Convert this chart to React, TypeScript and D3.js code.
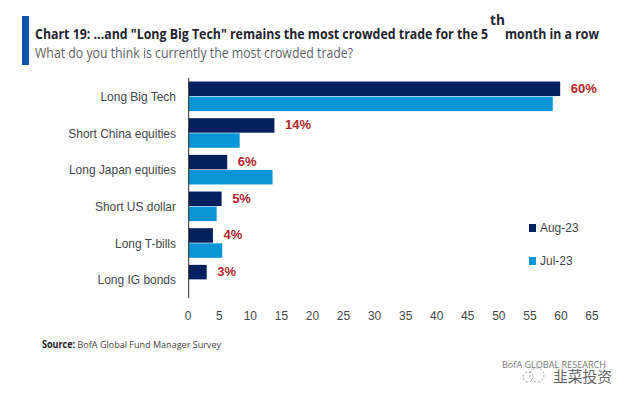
import React from "react";
import * as d3 from "d3";

const categories = ["Long Big Tech", "Short China equities", "Long Japan equities", "Short US dollar", "Long T-bills", "Long IG bonds"];
const aug23 = [59.8, 13.8, 6.2, 5.3, 3.9, 2.9];
const jul23: (number | null)[] = [58.6, 8.2, 13.5, 4.5, 5.4, null];
const labels = ["60%", "14%", "6%", "5%", "4%", "3%"];
const xTicks = d3.range(0, 70, 5);
const legendNames = ["Aug-23", "Jul-23"];

const NAVY = "#04205f";
const BLUE = "#0a95d6";
const RED = "#b3262c";
const GREY = "#45484d";
const LIB = "'Liberation Sans', Arial, sans-serif";
const OPEN = "'Open Sans', sans-serif";

function Narrow({ x, y, anchor, children }: { x: number; y: number; anchor?: "start" | "middle" | "end"; children: React.ReactNode }) {
  return (
    <text transform={`translate(${x},${y}) scale(0.88,1)`} textAnchor={anchor ?? "start"} fontFamily={LIB} fontSize={13.6} fill={GREY}>
      {children}
    </text>
  );
}

export default function App() {
  const x = d3.scaleLinear().domain([0, 65]).range([188.7, 592.5]);
  const y = d3.scaleBand<string>().domain(categories).range([78, 298]);
  const h = 14.5;
  return (
    <svg width={632} height={403} style={{ position: "absolute", left: 0, top: 0, background: "#fff" }}>
      <rect x={22} y={16} width={7} height={49} fill="#0b52a8" />
      <text x={35} y={38.5} fontFamily={OPEN} fontWeight={700} fontSize={13.6} fill="#1f2430" textLength={453} lengthAdjust="spacingAndGlyphs">
        Chart 19: ...and "Long Big Tech" remains the most crowded trade for the 5
      </text>
      <text x={490} y={25} fontFamily={OPEN} fontWeight={700} fontSize={13.6} fill="#1f2430">th</text>
      <text x={505} y={38.5} fontFamily={OPEN} fontWeight={700} fontSize={13.6} fill="#1f2430" textLength={94} lengthAdjust="spacingAndGlyphs">month in a row</text>
      <text x={35} y={58} fontFamily={OPEN} fontSize={13.6} fill="#5f6368" textLength={318} lengthAdjust="spacingAndGlyphs">
        What do you think is currently the most crowded trade?
      </text>

      {categories.map((c, i) => {
        const top = y(c)! + y.bandwidth() / 2 - h - 0.3;
        const jul = jul23[i];
        return (
          <g key={c}>
            <rect x={x(0)} y={top} width={x(aug23[i]) - x(0)} height={h} fill={NAVY} />
            {jul !== null && <rect x={x(0)} y={top + h + 0.6} width={x(jul) - x(0)} height={h} fill={BLUE} />}
            <Narrow x={176} y={top + h + 5} anchor="end">{c}</Narrow>
            <text x={x(aug23[i]) + 10.5} y={top + 11} fontFamily={LIB} fontWeight={700} fontSize={13} fill={RED}>{labels[i]}</text>
          </g>
        );
      })}
      <line x1={x(0)} x2={x(0)} y1={78} y2={298} stroke="#2b2b2b" strokeWidth={1} />

      {xTicks.map(t => (
        <Narrow key={t} x={x(t) - 0.5} y={320} anchor="middle">{t}</Narrow>
      ))}

      {legendNames.map((n, i) => (
        <g key={n}>
          <rect x={529} y={224 + i * 33} width={7} height={8} fill={i === 0 ? NAVY : BLUE} />
          <Narrow x={540} y={232 + i * 33}>{n}</Narrow>
        </g>
      ))}

      <text x={42} y={347.5} fontFamily={OPEN} fontSize={9.8} fill="#444" textLength={179} lengthAdjust="spacingAndGlyphs">
        <tspan fontWeight={700} fill="#222">Source:</tspan> BofA Global Fund Manager Survey
      </text>
      <text x={502} y={368} fontFamily={OPEN} fontSize={9.5} fill="#777" textLength={104} lengthAdjust="spacingAndGlyphs">BofA GLOBAL RESEARCH</text>
      <g fill="none" stroke="#888" strokeWidth={0.8}>
        <circle cx={537} cy={375} r={7} strokeDasharray="2 2" />
        <circle cx={528} cy={377} r={5} strokeDasharray="2 2" />
      </g>
      <text x={553} y={382} fontFamily="'Noto Sans CJK SC', sans-serif" fontSize={14.5} fill="#666" textLength={59} lengthAdjust="spacingAndGlyphs">韭菜投资</text>
    </svg>
  );
}
